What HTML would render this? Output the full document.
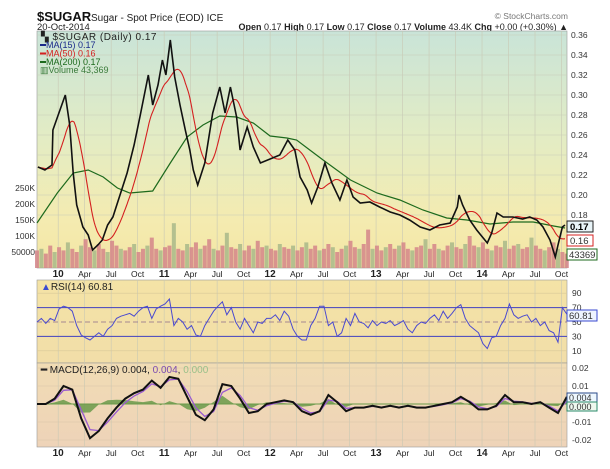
<!DOCTYPE html>
<html><head><meta charset="utf-8"><style>
html,body{margin:0;padding:0;background:#fff;}
svg{display:block;font-family:"Liberation Sans",sans-serif;}
</style></head><body>
<svg id="chart" width="610" height="469" viewBox="0 0 610 469" xmlns="http://www.w3.org/2000/svg">
<defs>
<linearGradient id="gTop" x1="0" y1="0" x2="0" y2="1">
<stop offset="0" stop-color="#c9e4d8"/><stop offset="0.45" stop-color="#e3ecc4"/><stop offset="0.8" stop-color="#f4ebb0"/><stop offset="1" stop-color="#f3e6a4"/>
</linearGradient>
<linearGradient id="gRsi" x1="0" y1="0" x2="0" y2="1"><stop offset="0" stop-color="#f4e3a6"/><stop offset="1" stop-color="#f2dea8"/></linearGradient>
<linearGradient id="gMacd" x1="0" y1="0" x2="0" y2="1"><stop offset="0" stop-color="#f1dcb4"/><stop offset="1" stop-color="#eed3b8"/></linearGradient>
</defs>
<text x="37" y="21" font-size="13" font-weight="bold" fill="#111">$SUGAR</text>
<text x="91" y="21" font-size="10" fill="#222">Sugar - Spot Price (EOD) ICE</text>
<text x="37" y="30" font-size="9.5" fill="#222">20-Oct-2014</text>
<text x="568" y="19" font-size="8.5" fill="#777" text-anchor="end">© StockCharts.com</text>
<text x="568" y="30" font-size="9" fill="#222" text-anchor="end"><tspan font-weight="bold">Open</tspan> 0.17 <tspan font-weight="bold">High</tspan> 0.17 <tspan font-weight="bold">Low</tspan> 0.17 <tspan font-weight="bold">Close</tspan> 0.17 <tspan font-weight="bold">Volume</tspan> 43.4K <tspan font-weight="bold">Chg</tspan> +0.00 (+0.30%) ▲</text>

<rect x="37" y="31" width="530" height="237" fill="url(#gTop)" stroke="#999" stroke-width="0.6"/>
<rect x="37" y="280" width="530" height="83" fill="url(#gRsi)" stroke="#999" stroke-width="0.6"/>
<rect x="37" y="363" width="530" height="84" fill="url(#gMacd)" stroke="#999" stroke-width="0.6"/>
<g id="grid"></g>
<g id="vol"></g>
<g id="lines"></g>
<g id="rsi"></g>
<g id="macd"></g>
<g id="labels"></g>

<g font-size="9">
<text x="41" y="40" fill="#222" font-size="10" letter-spacing="0.5">▚ $SUGAR (Daily) 0.17</text>
<line x1="40" y1="45" x2="46" y2="45" stroke="#1a2a8a" stroke-width="2"/><text x="46" y="48" fill="#1a2a8a">MA(15) 0.17</text>
<line x1="40" y1="53.5" x2="46" y2="53.5" stroke="#d42020" stroke-width="2"/><text x="46" y="56.5" fill="#d42020">MA(50) 0.16</text>
<line x1="40" y1="62" x2="46" y2="62" stroke="#1d6a1d" stroke-width="2"/><text x="46" y="65" fill="#1d6a1d">MA(200) 0.17</text>
<text x="40" y="73" fill="#3a7a3a">▥Volume 43,369</text>
</g>
<text x="41" y="290" font-size="10" fill="#222"><tspan fill="#3a4ad0">▲</tspan>RSI(14) 60.81</text>
<text x="41" y="373" font-size="10" fill="#222"><tspan font-weight="bold">━</tspan> MACD(12,26,9) 0.004, <tspan fill="#7a4ab0">0.004</tspan>, <tspan fill="#9ac08a">0.000</tspan></text>

<g font-size="9.5">
<rect x="567" y="221" width="26" height="11" fill="#e8f4f8" stroke="#222"/><text x="570" y="230" font-weight="bold">0.17</text>
<rect x="567" y="235" width="26" height="11" fill="#fff" stroke="#d42020"/><text x="570" y="244" fill="#333">0.16</text>
<rect x="567" y="249" width="30" height="11" fill="#fff" stroke="#1d6a1d"/><text x="569" y="258" fill="#333">43369</text>
<rect x="567" y="310" width="30" height="11" fill="#eef4ff" stroke="#3a4ad0"/><text x="569" y="319" fill="#333">60.81</text>
<rect x="567" y="393" width="30" height="9" fill="#eef8ff" stroke="#2a4a8a"/><text x="569" y="401" fill="#333" font-size="9">0.004</text>
<rect x="567" y="402" width="30" height="9" fill="#eef8ee" stroke="#2a8a6a"/><text x="569" y="410" fill="#333" font-size="9">0.000</text>
</g>
</svg>
<script>
// ---- data ----
const priceMonths=[0.1,0.9,1.7,1.8,2.4,3.2,3.7,4.1,4.5,5.2,5.8,6.3,6.9,7.4,8.0,8.6,9.4,10.2,11.0,11.7,12.6,13.1,13.7,14.2,14.6,15.1,15.6,16.2,16.8,17.3,17.7,18.2,19.0,19.9,20.7,21.3,21.9,22.6,23.0,23.8,24.5,25.3,26.4,27.5,28.4,29.2,29.8,30.6,31.1,31.8,32.6,33.4,34.3,35.1,35.8,36.6,37.7,38.8,40.0,41.1,42.2,43.4,44.5,45.6,46.8,47.6,47.8,48.2,49.0,49.8,51.0,51.5,52.1,52.8,53.9,55.0,55.8,56.6,57.3,58.1,58.7,59.0,59.5,59.8];
const priceValues=[0.228,0.225,0.230,0.265,0.28,0.30,0.27,0.222,0.19,0.168,0.16,0.145,0.15,0.155,0.17,0.178,0.20,0.222,0.25,0.28,0.32,0.29,0.31,0.335,0.32,0.355,0.318,0.29,0.265,0.245,0.225,0.21,0.232,0.282,0.308,0.282,0.308,0.278,0.245,0.268,0.248,0.232,0.236,0.24,0.255,0.245,0.218,0.205,0.192,0.208,0.232,0.212,0.195,0.215,0.198,0.192,0.193,0.188,0.183,0.18,0.175,0.168,0.165,0.17,0.172,0.188,0.20,0.19,0.175,0.165,0.152,0.162,0.182,0.178,0.178,0.176,0.178,0.175,0.168,0.155,0.138,0.15,0.168,0.17];
const ma200Months=[0,2.3,4.1,5.8,7.5,9.1,10.5,13.1,15.1,17.0,18.8,20.7,22.6,24.5,26.4,28.3,29.4,30.9,32.4,35.5,38.5,41.1,43.7,46.4,48.7,51.3,53.9,56.2,58.5,59.8];
const ma200Values=[0.172,0.202,0.222,0.225,0.218,0.207,0.202,0.204,0.232,0.258,0.27,0.279,0.278,0.272,0.259,0.257,0.255,0.245,0.235,0.215,0.202,0.195,0.185,0.177,0.175,0.171,0.173,0.173,0.169,0.167];
const volumeK=[55,60,45,70,50,65,55,80,60,50,70,90,65,55,75,60,50,85,70,60,55,65,75,50,60,70,95,60,55,65,70,140,60,55,75,65,80,60,70,90,60,55,70,110,65,60,75,55,70,60,85,65,70,60,55,75,65,60,70,55,65,80,60,70,55,60,75,65,50,60,70,85,65,60,75,120,60,70,55,65,75,60,70,80,60,55,65,70,90,60,75,60,55,70,80,65,60,75,100,70,65,80,60,55,70,65,85,60,70,75,60,65,95,70,60,55,65,80,60,50,45];
const rsiValues=[50,55,48,55,52, 68,72,70,65, 45,32,28,25, 30,35,30,40, 45,55,58,60, 62,58,65,70, 72,55,68,72, 75,82,45,55, 50,40,45,32, 30,45,55,65, 72,78,60,70, 50,40,55,45, 35,50,48,55, 55,60,52,65, 58,40,30,25, 25,45,55,72, 72,45,50,30, 35,55,45,62, 50,48,42,52, 45,50,48,52, 45,48,52,40, 35,45,50,48, 55,60,52,65, 55,62,70,74, 55,45,40,35, 20,13,28,30, 45,55,75,60, 55,58,60,50, 55,45,50,38, 35,22,70,61];
const macdValues=[0,0,0.003,0.010,0.008,-0.008,-0.019,-0.015,-0.008,-0.002,0.003,0.006,0.008,0.013,0.009,0.015,0.014,0.004,-0.006,-0.009,-0.003,0.011,0.010,0.003,-0.005,-0.004,0,0.001,0.002,0.001,-0.004,-0.006,-0.004,0.005,0.001,-0.004,-0.002,-0.002,-0.001,-0.002,-0.001,-0.002,-0.001,-0.002,-0.002,-0.001,0,0.001,0.004,0.001,-0.003,-0.003,-0.001,0.005,0.001,0.001,0,0.001,-0.002,-0.005,0.004];
const priceTicks=[0.36,0.34,0.32,0.30,0.28,0.26,0.24,0.22,0.20,0.18];
const volTicks=[50000,100000,150000,200000,250000];
const volTickLabels=["50000","100K","150K","200K","250K"];
const rsiTicks=[90,70,50,30,10];
const macdTicks=[0.02,0.01,0,-0.01,-0.02];
const macdTickLabels=["0.02","0.01","","-0.01","-0.02"];
const dateLabels=["10","Apr","Jul","Oct","11","Apr","Jul","Oct","12","Apr","Jul","Oct","13","Apr","Jul","Oct","14","Apr","Jul","Oct"];
const dateMonths=[2.4,5.4,8.4,11.4,14.4,17.4,20.4,23.4,26.4,29.4,32.4,35.4,38.4,41.4,44.4,47.4,50.4,53.4,56.4,59.4];

// ---- axes ----
const NS="http://www.w3.org/2000/svg";
const X=m=>37+m*8.83;
const YP=p=>195+(0.20-p)*1000;
const YV=v=>268-v/50000*16;
const YR=r=>322-(r-50)*0.72;
const YM=v=>404-v*1800;
function mk(tag,attrs,parent){const e=document.createElementNS(NS,tag);for(const k in attrs)e.setAttribute(k,attrs[k]);parent.appendChild(e);return e;}
const grid=document.getElementById('grid'),vol=document.getElementById('vol'),lines=document.getElementById('lines'),rsiG=document.getElementById('rsi'),macdG=document.getElementById('macd'),lab=document.getElementById('labels');

dateMonths.forEach((m,i)=>{
  const x=X(m);
  [[31,268],[280,363],[363,447]].forEach(r=>{const l=mk('line',{x1:x,x2:x,y1:r[0],y2:r[1],stroke:'#c8c8b4','stroke-width':0.6},grid);
  
  });
  [277,456].forEach(y=>{const t=mk('text',{x:x,y:y,'text-anchor':'middle','font-size':dateLabels[i].length==2?10:8.5,'font-weight':dateLabels[i].length==2?'bold':'normal',fill:'#222'},lab);t.textContent=dateLabels[i];
  
  });
});
priceTicks.forEach(p=>{const y=YP(p);
  const l=mk('line',{x1:37,x2:567,y1:y,y2:y,stroke:'#c8ccb8','stroke-width':0.6},grid);
  
  
  const t=mk('text',{x:571,y:y+3,'font-size':8.5,fill:'#333'},lab);t.textContent=p.toFixed(2);
  
  
});
volTicks.forEach((v,i)=>{const t=mk('text',{x:35,y:YV(v)+3,'font-size':8.5,fill:'#333','text-anchor':'end'},lab);t.textContent=volTickLabels[i];
  
  });
rsiTicks.forEach(r=>{const y=YR(r);
  const l=mk('line',{x1:37,x2:567,y1:y,y2:y,stroke:(r==70||r==30)?'#4040c0':(r==50?'#8a6a8a':'#d8c898'),'stroke-width':(r==70||r==30)?1:0.7,'stroke-dasharray':r==50?'5,3':''},grid);
  
  
  const t=mk('text',{x:572,y:y+3,'font-size':8.5,fill:'#333'},lab);t.textContent=r;
  
  });
macdTicks.forEach((v,i)=>{const y=YM(v);
  const l=mk('line',{x1:37,x2:567,y1:y,y2:y,stroke:'#d8c4a8','stroke-width':0.6},grid);
  
  
  if(macdTickLabels[i]){const t=mk('text',{x:572,y:y+3,'font-size':8.5,fill:'#333'},lab);t.textContent=macdTickLabels[i];
  
  }});

// volume bars
volumeK.forEach((v,i)=>{const m=i*0.5;if(m>60)return;const y=YV(v*1000);
  const b=mk('rect',{x:X(m)-2,y:y,width:4,height:268-y,fill:(i%3==1)?'#a8b98a':'#d4858a',opacity:0.85},vol);
  
  });

// moving averages (derived from price)
function interp(ms,vs,m){if(m<=ms[0])return vs[0];for(let i=1;i<ms.length;i++){if(m<=ms[i]){const f=(m-ms[i-1])/(ms[i]-ms[i-1]);return vs[i-1]+f*(vs[i]-vs[i-1]);}}return vs[vs.length-1];}
function movingAvg(w){const out=[];const step=0.1;for(let m=priceMonths[0];m<=priceMonths[priceMonths.length-1]+1e-9;m+=step){let s=0,n=0;for(let k=m-w;k<=m+1e-9;k+=step){if(k<priceMonths[0])continue;s+=interp(priceMonths,priceValues,k);n++;}out.push([m,s/n]);}return out;}
function pathOf(pts){return pts.map((p,i)=>(i?'L':'M')+p[0].toFixed(1)+','+p[1].toFixed(1)).join('');}
const ma200=mk('path',{d:pathOf(ma200Months.map((m,i)=>[X(m),YP(ma200Values[i])])),fill:'none',stroke:'#1d6a1d','stroke-width':1.2},lines);


const ma50=mk('path',{d:pathOf(movingAvg(2.4).map(p=>[X(p[0]),YP(p[1])])),fill:'none',stroke:'#d42020','stroke-width':1.1},lines);


const ma15=mk('path',{d:pathOf(movingAvg(0.7).map(p=>[X(p[0]),YP(p[1])])),fill:'none',stroke:'#2a3a9a','stroke-width':1.1},lines);


const price=mk('path',{d:pathOf(priceMonths.map((m,i)=>[X(m),YP(priceValues[i])])),fill:'none',stroke:'#111','stroke-width':1.6},lines);



// RSI
const rsiPath=mk('path',{d:pathOf(rsiValues.map((r,i)=>[X(i*0.5),YR(r)])),fill:'none',stroke:'#4a4ad0','stroke-width':1},rsiG);



// MACD
const signal=[];let e=macdValues[0];macdValues.forEach(v=>{e=e+0.7*(v-e);signal.push(e);});
const hist=macdValues.map((v,i)=>v-signal[i]);
const hpts=[[X(0),YM(0)]].concat(hist.map((h,i)=>[X(i),YM(h)])).concat([[X(60),YM(0)]]);
const histPath=mk('path',{d:pathOf(hpts)+'Z',fill:'#6a9a4a',opacity:0.85},macdG);


const zl=mk('line',{x1:37,x2:567,y1:YM(0),y2:YM(0),stroke:'#6a9a4a','stroke-width':1},macdG);


const sig=mk('path',{d:pathOf(signal.map((v,i)=>[X(i),YM(v)])),fill:'none',stroke:'#9a5ad0','stroke-width':1.3},macdG);


const mac=mk('path',{d:pathOf(macdValues.map((v,i)=>[X(i),YM(v)])),fill:'none',stroke:'#111','stroke-width':2},macdG);


</script>
</body></html>
